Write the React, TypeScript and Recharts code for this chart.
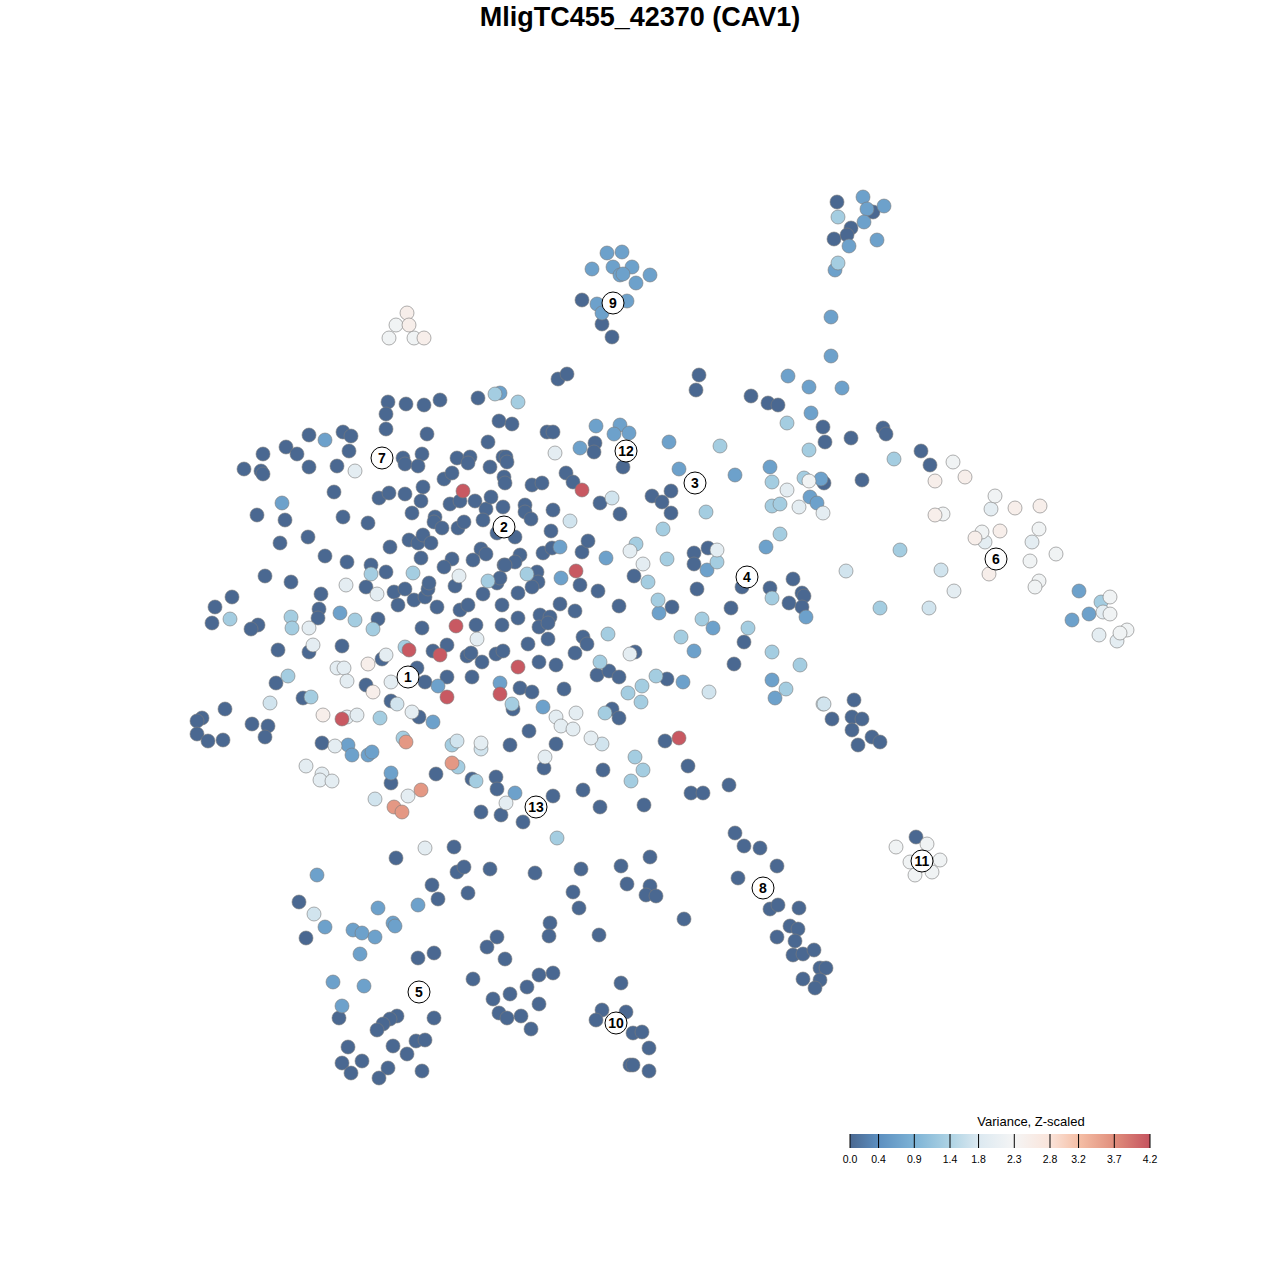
import React from 'react';
import { ScatterChart, Scatter, XAxis, YAxis } from 'recharts';

// variance level codes
const D = 0, M = 0.65, L = 1.3, P = 1.7, W = 1.95, X = 2.2, C = 2.5, S = 3.6, R = 4.15;

type Pt = [number, number, number];

const clusterNorthEast: Pt[] = [
  [837,202,D],[863,197,M],[884,206,M],[873,212,D],[867,209,M],[838,217,L],[864,222,M],[851,228,D],[847,235,D],
  [834,239,D],[849,246,M],[877,240,M],[838,263,L],[835,270,M],[831,317,M],[831,356,M],
];

const clusterNine: Pt[] = [
  [607,253,M],[622,252,M],[592,269,M],[613,267,M],[632,267,M],[620,275,M],[623,274,M],[650,275,M],[636,283,M],
  [582,300,D],[597,304,M],[627,301,M],[602,313,M],[602,324,D],[612,337,D],
];

const clusterPale: Pt[] = [
  [407,313,C],[396,325,X],[409,325,C],[389,338,X],[414,338,X],[424,338,C],
];

const coreNorthWest: Pt[] = [
  [388,402,D],[386,414,D],[386,429,D],[406,404,D],[424,405,D],[440,400,D],[478,398,D],[495,394,L],[500,393,M],[499,421,D],
  [309,435,D],[325,440,M],[343,432,D],[351,436,D],[263,454,D],[286,447,D],[297,454,D],[349,451,D],[244,469,D],[261,471,D],
  [263,474,D],[309,467,D],[337,466,D],[355,471,W],[427,434,D],[403,458,D],[405,464,D],[422,454,D],[418,466,D],[457,458,D],
  [470,457,D],[468,463,D],[488,442,D],[490,467,D],[503,457,D],[444,479,D],[452,473,D],[463,491,R],[334,492,D],[282,503,M],
  [257,515,D],[285,520,D],[343,517,D],[368,523,D],[379,498,D],[389,493,D],[405,494,D],[423,487,D],[421,501,D],[412,513,D],
  [435,517,D],[434,522,D],[442,528,D],[450,504,D],[460,501,D],[475,501,D],[486,509,D],[491,497,D],[483,520,D],[458,528,D],
  [464,522,D],[503,507,D],[497,533,D],[504,477,D],[308,537,D],[280,543,D],[390,547,D],[409,540,D],[418,543,D],[423,535,D],
  [431,543,D],[481,549,D],[486,554,D],[473,560,D],[325,556,D],[347,562,D],[421,558,D],[452,559,D],[444,567,D],[504,565,D],
  [371,565,D],[371,574,L],[386,572,D],[413,573,L],[346,585,W],[366,587,D],[377,594,W],[394,592,D],[405,589,D],[414,600,D],
  [425,597,D],[428,589,D],[429,583,D],[459,576,W],[455,586,D],[488,581,L],[497,583,D],[483,594,D],[398,605,D],[437,607,D],
  [460,610,D],[468,605,D],[502,605,D],[265,576,D],[291,582,D],[321,594,D],[232,597,D],[215,607,D],[212,623,D],[230,619,L],
  [258,625,D],[251,629,D],[291,617,L],[292,628,L],[319,609,D],[318,618,D],[340,613,M],[355,620,L],[309,628,W],[378,619,D],
  [373,629,L],[456,626,R],[476,625,D],[502,625,D],[422,628,D],
];

const coreNorthEast: Pt[] = [
  [558,379,D],[567,374,D],[699,375,D],[696,390,D],[788,376,M],[809,387,M],[842,388,M],[751,396,D],[768,403,D],[778,405,D],
  [811,413,M],[787,423,L],[823,427,D],[825,442,D],[809,450,L],[518,402,L],[547,432,D],[553,432,D],[506,457,D],[507,462,D],
  [512,424,D],[505,483,D],[532,485,D],[542,483,D],[555,453,W],[596,426,M],[580,448,M],[595,443,D],[594,452,D],[620,425,M],
  [614,434,M],[629,433,M],[623,467,D],[566,473,D],[573,482,D],[582,490,R],[600,503,D],[612,498,P],[620,514,D],[669,442,M],
  [679,469,M],[720,446,L],[735,475,M],[652,496,D],[662,502,D],[671,491,D],[671,513,D],[706,512,L],[663,529,L],[770,467,M],
  [772,482,L],[787,490,W],[804,478,L],[809,481,X],[821,479,M],[824,483,D],[810,497,M],[817,503,M],[772,506,L],[780,504,L],
  [799,507,W],[823,513,W],[780,534,L],[766,547,M],[553,510,D],[570,521,P],[525,505,D],[525,512,D],[531,519,D],[551,531,D],
  [543,553,D],[552,548,D],[560,547,M],[582,552,D],[588,541,D],[515,537,D],[520,555,D],[515,562,D],[505,565,D],[527,574,L],
  [537,572,D],[538,582,D],[532,587,D],[561,578,M],[576,571,R],[580,585,D],[598,591,D],[606,558,M],[630,551,W],[636,544,L],
  [643,564,W],[634,576,D],[648,582,L],[667,559,L],[694,553,D],[694,564,D],[708,548,D],[717,550,W],[707,570,M],[717,562,L],
  [697,589,D],[518,593,D],[500,578,D],[560,604,D],[575,611,D],[540,615,D],[550,617,D],[518,618,D],[619,606,D],[658,600,L],
  [659,613,M],[672,607,D],[702,619,L],[713,628,M],[731,608,D],[742,587,D],[770,588,D],[772,598,L],[793,579,D],[802,593,D],
  [804,596,D],[789,603,D],[802,607,D],[806,617,M],[748,628,L],[744,642,D],[772,652,L],[694,651,M],[681,637,L],
];

const armEast: Pt[] = [
  [851,438,D],[883,428,D],[886,434,D],[894,459,L],[921,451,D],[930,465,D],[953,462,X],[965,477,C],[935,481,C],[862,480,D],
  [995,496,X],[991,509,W],[1015,508,C],[1040,506,C],[935,515,C],[943,514,X],[982,532,X],[975,538,C],[985,542,W],[1000,531,C],
  [1039,529,X],[1032,542,W],[1056,554,X],[1030,561,X],[989,574,C],[1039,581,X],[1035,587,X],[900,550,L],[846,571,P],[941,570,P],
  [954,591,W],[880,608,L],[929,608,P],[1079,591,M],[1101,602,L],[1103,612,W],[1110,597,X],[1110,614,X],[1089,614,M],[1072,620,M],
  [1099,635,W],[1117,641,W],[1127,630,X],[1120,633,X],
];

const coreSouthWest: Pt[] = [
  [278,650,D],[309,652,D],[313,645,W],[342,646,D],[477,639,W],[405,647,L],[409,650,R],[433,651,D],[447,645,D],[440,655,R],
  [467,656,D],[471,653,D],[482,662,D],[496,654,D],[503,651,D],[337,668,W],[344,668,W],[347,681,W],[368,664,C],[382,659,D],
  [386,655,W],[391,682,W],[417,668,D],[425,682,D],[438,686,M],[447,677,D],[447,697,R],[472,677,D],[500,683,M],[500,694,R],
  [366,685,D],[373,692,C],[391,701,D],[397,704,P],[412,712,W],[419,717,D],[433,722,M],[380,718,L],[323,715,C],[342,719,R],
  [347,717,W],[357,715,W],[276,683,D],[288,676,L],[270,703,P],[303,698,D],[311,697,L],[225,709,D],[202,718,D],[197,721,D],
  [197,734,D],[208,741,D],[223,740,D],[252,724,D],[268,726,D],[265,737,D],[322,743,D],[335,746,W],[348,745,M],[352,755,M],
  [368,755,M],[372,752,M],[306,766,W],[322,774,W],[320,780,W],[332,781,W],[403,738,L],[406,742,S],[391,773,M],[391,783,D],
  [436,774,D],[452,745,L],[457,741,P],[481,743,W],[481,749,P],[472,779,D],[476,781,L],[452,763,S],[458,767,L],[496,777,D],
  [497,789,D],[506,803,W],[375,799,P],[408,796,W],[421,790,S],[394,807,S],[402,812,S],[481,812,D],[501,815,D],
];

const coreSouthEast: Pt[] = [
  [539,627,D],[548,623,D],[528,644,D],[548,639,D],[583,637,D],[587,644,D],[575,653,D],[608,634,L],[635,652,D],[630,654,W],
  [734,664,D],[800,665,L],[518,667,R],[539,662,D],[556,665,D],[600,662,L],[597,675,D],[609,671,D],[619,677,D],[656,676,L],
  [667,679,D],[683,682,M],[628,693,L],[642,686,L],[641,702,L],[709,692,P],[772,680,M],[786,689,L],[775,698,M],[823,704,P],
  [520,688,D],[532,692,D],[564,689,D],[512,704,L],[513,709,D],[543,707,M],[556,717,W],[561,726,W],[576,713,W],[573,729,W],
  [605,713,L],[612,709,D],[619,718,D],[591,738,W],[602,744,P],[529,731,D],[510,745,D],[556,744,D],[545,757,W],[544,768,D],
  [665,741,D],[679,738,R],[635,757,L],[643,770,L],[631,781,L],[688,766,D],[603,770,D],[583,790,D],[553,796,D],[515,793,M],
  [523,822,D],[600,807,D],[644,805,D],[691,793,D],[703,793,D],[729,785,D],[557,838,L],[735,833,D],
];

const clusterEightEleven: Pt[] = [
  [854,700,D],[824,704,P],[832,719,D],[852,717,D],[862,719,D],[852,730,D],[872,737,D],[880,742,D],[858,745,D],
  [744,846,D],[760,848,D],[777,866,D],[738,878,D],[770,909,D],[778,905,D],[799,908,D],[790,926,D],[798,929,D],[777,937,D],
  [795,941,D],[793,955,D],[803,954,D],[814,950,D],[820,968,D],[826,968,D],[803,979,D],[820,980,D],[815,988,D],[684,919,D],
  [916,837,D],[896,847,X],[927,844,X],[910,862,X],[940,860,X],[915,875,X],[932,872,X],
];

const armSouth: Pt[] = [
  [425,848,W],[396,858,D],[454,847,D],[457,872,D],[464,867,D],[490,869,D],[535,873,D],[581,869,D],[621,866,D],[650,857,D],
  [627,884,D],[650,886,D],[646,895,D],[656,896,D],[573,892,D],[579,908,D],[317,875,M],[432,885,D],[438,899,D],[468,893,D],
  [299,902,D],[314,914,P],[378,908,M],[418,905,M],[325,927,M],[353,930,M],[362,933,M],[375,937,M],[393,923,M],[395,926,M],
  [306,938,D],[360,954,M],[497,937,D],[487,947,D],[505,959,D],[550,923,D],[549,936,D],[599,935,D],[418,958,D],[434,953,D],
  [333,982,M],[364,986,M],[473,979,D],[539,975,D],[553,973,D],[527,987,D],[510,994,D],[493,999,D],[539,1004,D],[499,1013,D],
  [507,1018,D],[521,1016,D],[531,1029,D],[621,983,D],[602,1010,D],[596,1020,D],[626,1012,D],[633,1033,D],[642,1032,D],
  [649,1048,D],[630,1065,D],[633,1065,D],[649,1071,D],[342,1006,M],[339,1018,D],[397,1016,D],[390,1019,D],[383,1024,D],
  [377,1030,D],[434,1018,D],[348,1047,D],[393,1046,D],[416,1041,D],[425,1040,D],[407,1054,D],[362,1061,D],[342,1063,D],
  [351,1073,D],[388,1068,D],[379,1078,D],[422,1071,D],
];

const clusterIds = ['1','2','3','4','5','6','7','8','9','10','11','12','13'];
const clusterX = [408,504,695,747,419,996,382,763,613,616,922,626,536];
const clusterY = [677,527,483,577,992,559,458,888,303,1023,861,451,807];

const legendTicks = [0, 0.4, 0.9, 1.4, 1.8, 2.3, 2.8, 3.2, 3.7, 4.2];
const legendTickLabels = ['0.0','0.4','0.9','1.4','1.8','2.3','2.8','3.2','3.7','4.2'];
const legendColors = ['#4a6891','#5c8fc0','#7db3d6','#aed3e4','#dce9f1','#f5f5f5','#fae4da','#f5bfa6','#e08e7c','#c5535f'];

const TITLE = 'MligTC455_42370 (CAV1)';
const LEGEND_TITLE = 'Variance, Z-scaled';
const FONT = '"Liberation Sans", Arial, sans-serif';

function hexToRgb(h: string) {
  const n = parseInt(h.slice(1), 16);
  return [(n >> 16) & 255, (n >> 8) & 255, n & 255];
}
function colorFor(v: number) {
  const t = legendTicks;
  if (v <= t[0]) return legendColors[0];
  if (v >= t[t.length - 1]) return legendColors[legendColors.length - 1];
  let i = 0;
  while (i < t.length - 2 && v > t[i + 1]) i++;
  const f = (v - t[i]) / (t[i + 1] - t[i]);
  const a = hexToRgb(legendColors[i]);
  const b = hexToRgb(legendColors[i + 1]);
  const c = a.map((x, k) => Math.round(x + (b[k] - x) * f));
  return `rgb(${c[0]},${c[1]},${c[2]})`;
}

const allPoints = [
  ...clusterNorthEast, ...clusterNine, ...clusterPale, ...coreNorthWest, ...coreNorthEast, ...armEast,
  ...coreSouthWest, ...coreSouthEast, ...clusterEightEleven, ...armSouth,
]
  .map(([x, y, v]) => ({ x, y, v }))
  .sort((a, b) => a.v - b.v);

const labelData = clusterIds.map((id, i) => ({ x: clusterX[i], y: clusterY[i], id }));

const PointShape = (props: any) => (
  <circle cx={props.cx} cy={props.cy} r={7} fill={colorFor(props.payload.v)} stroke="#7a7a7a" strokeWidth={0.6} />
);

const LabelShape = (props: any) => (
  <g>
    <circle cx={props.cx} cy={props.cy} r={11} fill="#ffffff" stroke="#000" strokeWidth={1} />
    <text x={props.cx} y={props.cy + 5} textAnchor="middle" fontFamily={FONT} fontWeight="bold" fontSize={14} fill="#000">
      {props.payload.id}
    </text>
  </g>
);

const LEG_X0 = 850, LEG_X1 = 1150, LEG_Y = 1134, LEG_H = 14;

export default function App() {
  const scale = (v: number) => LEG_X0 + ((v - legendTicks[0]) / (legendTicks[legendTicks.length - 1] - legendTicks[0])) * (LEG_X1 - LEG_X0);
  return (
    <div style={{ position: 'absolute', left: 0, top: 0, width: 1280, height: 1280, background: '#fff' }}>
      <ScatterChart width={1280} height={1280} margin={{ top: 0, right: 0, bottom: 0, left: 0 }}>
        <XAxis type="number" dataKey="x" domain={[0, 1280]} hide allowDataOverflow />
        <YAxis type="number" dataKey="y" domain={[0, 1280]} reversed hide allowDataOverflow />
        <Scatter data={allPoints} shape={PointShape} isAnimationActive={false} />
        <Scatter data={labelData} shape={LabelShape} isAnimationActive={false} />
      </ScatterChart>
      <svg width={1280} height={1280} style={{ position: 'absolute', left: 0, top: 0, pointerEvents: 'none' }}>
        <defs>
          <linearGradient id="varGrad" x1="0" x2="1" y1="0" y2="0">
            {legendTicks.map((t, i) => (
              <stop key={i} offset={(t - legendTicks[0]) / (legendTicks[legendTicks.length - 1] - legendTicks[0])} stopColor={legendColors[i]} />
            ))}
          </linearGradient>
        </defs>
        <text x={640} y={26} textAnchor="middle" fontFamily={FONT} fontWeight="bold" fontSize={27} fill="#000">{TITLE}</text>
        <text x={1031} y={1126} textAnchor="middle" fontFamily={FONT} fontSize={13} fill="#000">{LEGEND_TITLE}</text>
        <rect x={LEG_X0} y={LEG_Y} width={LEG_X1 - LEG_X0} height={LEG_H} fill="url(#varGrad)" />
        {legendTicks.map((t, i) => (
          <g key={i}>
            <line x1={scale(t)} x2={scale(t)} y1={LEG_Y} y2={LEG_Y + LEG_H} stroke="#000" strokeWidth={1} />
            <text x={scale(t)} y={1163} textAnchor="middle" fontFamily={FONT} fontSize={10.5} fill="#000">{legendTickLabels[i]}</text>
          </g>
        ))}
      </svg>
    </div>
  );
}
